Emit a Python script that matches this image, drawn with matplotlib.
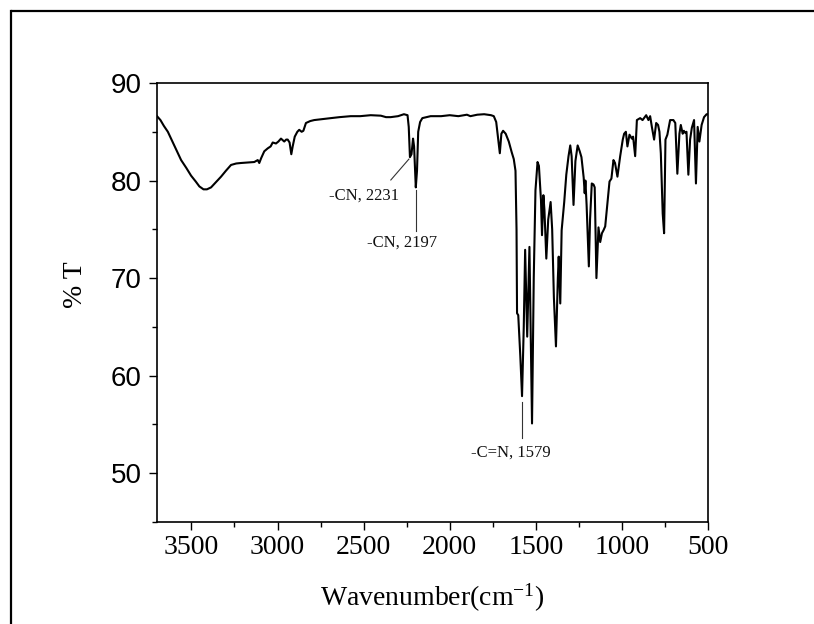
import matplotlib
matplotlib.use("Agg")
import matplotlib.pyplot as plt
from matplotlib.lines import Line2D
from matplotlib.ticker import MultipleLocator

plt.rcParams["mathtext.fontset"] = "custom"
plt.rcParams["mathtext.rm"] = "Liberation Serif"
plt.rcParams["mathtext.it"] = "Liberation Serif:italic"

# ---- data ----
wavenumber = [
    3700, 3680, 3660, 3637, 3600, 3560, 3530, 3502, 3475, 3454, 3430, 3410, 3386, 3360,
    3328, 3300, 3270, 3240, 3212, 3170, 3135, 3115, 3106, 3095, 3077, 3057, 3040, 3028,
    3009, 2995, 2980, 2961, 2950, 2941, 2930, 2920, 2912, 2900, 2885, 2874, 2860, 2850,
    2835, 2810, 2787, 2740, 2690, 2640, 2575, 2520, 2459, 2400, 2370, 2343, 2300, 2266,
    2245, 2238, 2231, 2222, 2213, 2207, 2197, 2190, 2183, 2172, 2159, 2111, 2050, 2000,
    1950, 1900, 1880, 1840, 1800, 1760, 1744, 1730, 1720, 1709, 1700, 1690, 1675, 1657,
    1640, 1628, 1618, 1612, 1609, 1602, 1590, 1580, 1570, 1562, 1550, 1537, 1522, 1512,
    1502, 1490, 1482, 1470, 1464, 1456, 1450, 1439, 1428, 1414, 1405, 1395, 1383, 1372,
    1367, 1358, 1350, 1335, 1323, 1310, 1300, 1292, 1281, 1270, 1257, 1245, 1235, 1222,
    1216, 1212, 1205, 1192, 1185, 1175, 1165, 1158, 1148, 1140, 1136, 1126, 1116, 1107,
    1097, 1085, 1072, 1061, 1049, 1040, 1026, 1010, 995, 987, 977, 968, 956, 942,
    935, 923, 913, 894, 880, 859, 846, 836, 826, 813, 801, 790, 782, 774,
    763, 755, 747, 736, 720, 701, 690, 678, 666, 658, 647, 640, 633, 625,
    614, 604, 594, 581, 570, 560, 550, 537, 523, 508, 500,
]
transmittance = [
    86.6, 86.2, 85.6, 85.0, 83.6, 82.1, 81.3, 80.5, 79.9, 79.4, 79.1, 79.1, 79.3, 79.8,
    80.4, 81.0, 81.6, 81.75, 81.8, 81.85, 81.9, 82.1, 81.8, 82.3, 83.0, 83.3, 83.5, 83.9,
    83.8, 84.0, 84.3, 84.0, 84.2, 84.2, 83.9, 82.7, 83.5, 84.5, 85.0, 85.2, 85.0, 85.1,
    85.9, 86.1, 86.2, 86.3, 86.4, 86.5, 86.6, 86.6, 86.7, 86.65, 86.5, 86.5, 86.6, 86.8,
    86.7, 85.5, 82.4, 82.7, 84.3, 83.5, 79.3, 81.0, 85.0, 86.0, 86.4, 86.6, 86.6, 86.7,
    86.6, 86.75, 86.6, 86.75, 86.8, 86.7, 86.6, 86.0, 84.5, 82.8, 84.8, 85.1, 84.8, 84.0,
    82.9, 82.2, 81.0, 75.0, 66.4, 66.2, 62.0, 57.9, 65.0, 72.9, 64.0, 73.2, 55.1, 70.0,
    79.0, 81.9, 81.5, 78.0, 74.4, 78.5, 77.0, 72.0, 76.0, 77.8, 75.0, 68.0, 63.0, 70.0,
    72.2, 67.4, 74.9, 77.8, 80.6, 82.5, 83.6, 82.5, 77.5, 82.0, 83.6, 83.0, 82.4, 80.3,
    78.7, 80.0, 77.5, 71.2, 76.0, 79.7, 79.6, 79.3, 70.0, 73.5, 75.2, 73.7, 74.6, 74.9,
    75.3, 77.5, 79.9, 80.2, 82.1, 81.8, 80.4, 82.5, 84.2, 84.8, 85.0, 83.5, 84.7, 84.3,
    84.5, 82.5, 86.2, 86.4, 86.2, 86.7, 86.2, 86.6, 85.5, 84.2, 85.9, 85.7, 85.0, 82.8,
    76.6, 74.6, 84.2, 84.7, 86.2, 86.2, 85.9, 80.7, 84.8, 85.7, 84.8, 85.1, 84.9, 85.0,
    80.6, 84.2, 85.4, 86.2, 79.7, 85.5, 84.0, 85.7, 86.5, 86.8, 86.8,
]

x_ticks = [3500, 3000, 2500, 2000, 1500, 1000, 500]
y_ticks = [50, 60, 70, 80, 90]

annotation_labels = ["-CN, 2231", "-CN, 2197", "-C=N, 1579"]

# ---- figure ----
W, H = 814, 624
fig = plt.figure(figsize=(W / 100, H / 100), dpi=100)
fig.patch.set_facecolor("white")

# outer frame: top and left edges only (others fall outside the picture)
fx, fy = 11 / W, 1 - 11 / H
fig.add_artist(Line2D([fx, 1.01], [fy, fy], transform=fig.transFigure,
                      color="black", linewidth=1.6, solid_capstyle="butt"))
fig.add_artist(Line2D([fx, fx], [fy, -0.01], transform=fig.transFigure,
                      color="black", linewidth=1.6, solid_capstyle="projecting"))

ax = fig.add_axes([157 / W, 1 - 522 / H, (708 - 157) / W, (522 - 83) / H])

ax.plot(wavenumber, transmittance, color="black", linewidth=1.5,
        solid_joinstyle="round")

ax.set_xlim(3700, 500)
ax.set_ylim(45, 90)
ax.set_xticks(x_ticks)
ax.set_yticks(y_ticks)
ax.xaxis.set_minor_locator(MultipleLocator(250))
ax.yaxis.set_minor_locator(MultipleLocator(5))

for s in ax.spines.values():
    s.set_linewidth(1.2)

ax.tick_params(which="both", direction="out", top=False, right=False, width=1.0)
ax.tick_params(which="major", length=6)
ax.tick_params(which="minor", length=3.5)
ax.tick_params(axis="y", which="major", pad=5)
ax.tick_params(axis="x", which="major", pad=3)

for lab in ax.get_xticklabels():
    lab.set_fontfamily("Liberation Serif")
    lab.set_fontsize(20)
for lab in ax.get_yticklabels():
    lab.set_fontfamily("Liberation Sans")
    lab.set_fontsize(20)

ax.set_xlabel(r"Wavenumber(cm$^{\mathregular{-1}}$)", fontsize=20,
              fontfamily="Liberation Serif", va="center")
ax.xaxis.set_label_coords(0.5, (522 - 598) / (522 - 83))
ax.set_ylabel("% T", fontsize=20, fontfamily="Liberation Serif", va="center")
ax.yaxis.set_label_coords((75 - 157) / (708 - 157), 1 - (284.5 - 83) / (522 - 83))

# annotations
lcol = "#333333"
ax.plot([2342, 2237], [80.06, 82.2], color=lcol, linewidth=0.8)
ax.plot([2196, 2196], [79.0, 74.8], color=lcol, linewidth=0.8)
ax.plot([1579, 1579], [57.3, 53.6], color=lcol, linewidth=0.8)

afont = dict(fontsize=12, fontfamily="Liberation Serif", ha="center", va="center",
             color="#111111")
ax.text(2495, 78.5, annotation_labels[0], **afont)
ax.text(2275, 73.6, annotation_labels[1], **afont)
ax.text(1647, 52.1, annotation_labels[2], **afont)

fig.savefig("out.png", dpi=100, facecolor="white")
